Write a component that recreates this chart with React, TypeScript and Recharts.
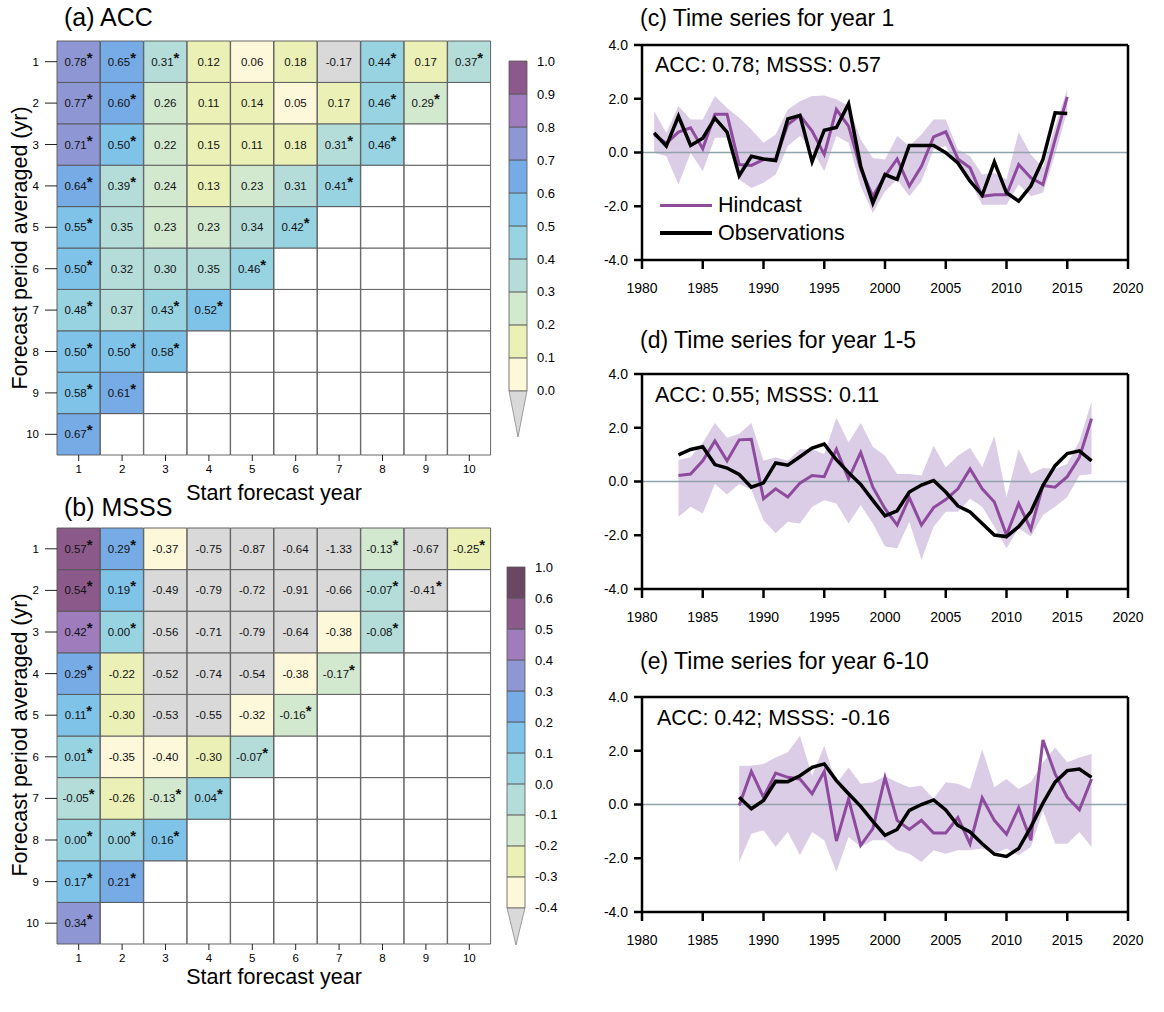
import React from 'react';
import {
  BarChart, Bar, XAxis, YAxis, Cell, LabelList,
  ComposedChart, Line, Area, ReferenceLine,
} from 'recharts';

const FONT = '"Liberation Sans", Arial, Helvetica, sans-serif';

// ---------- Heatmap data ----------
const startYears = ['1', '2', '3', '4', '5', '6', '7', '8', '9', '10'];
const rowLabels = ['1', '2', '3', '4', '5', '6', '7', '8', '9', '10'];

const accValues: number[][] = [
  [0.78, 0.65, 0.31, 0.12, 0.06, 0.18, -0.17, 0.44, 0.17, 0.37],
  [0.77, 0.60, 0.26, 0.11, 0.14, 0.05, 0.17, 0.46, 0.29],
  [0.71, 0.50, 0.22, 0.15, 0.11, 0.18, 0.31, 0.46],
  [0.64, 0.39, 0.24, 0.13, 0.23, 0.31, 0.41],
  [0.55, 0.35, 0.23, 0.23, 0.34, 0.42],
  [0.50, 0.32, 0.30, 0.35, 0.46],
  [0.48, 0.37, 0.43, 0.52],
  [0.50, 0.50, 0.58],
  [0.58, 0.61],
  [0.67],
];
const accSig: number[][] = [
  [1, 1, 1, 0, 0, 0, 0, 1, 0, 1],
  [1, 1, 0, 0, 0, 0, 0, 1, 1],
  [1, 1, 0, 0, 0, 0, 1, 1],
  [1, 1, 0, 0, 0, 0, 1],
  [1, 0, 0, 0, 0, 1],
  [1, 0, 0, 0, 1],
  [1, 0, 1, 1],
  [1, 1, 1],
  [1, 1],
  [1],
];

const msssValues: number[][] = [
  [0.57, 0.29, -0.37, -0.75, -0.87, -0.64, -1.33, -0.13, -0.67, -0.25],
  [0.54, 0.19, -0.49, -0.79, -0.72, -0.91, -0.66, -0.07, -0.41],
  [0.42, 0.00, -0.56, -0.71, -0.79, -0.64, -0.38, -0.08],
  [0.29, -0.22, -0.52, -0.74, -0.54, -0.38, -0.17],
  [0.11, -0.30, -0.53, -0.55, -0.32, -0.16],
  [0.01, -0.35, -0.40, -0.30, -0.07],
  [-0.05, -0.26, -0.13, 0.04],
  [0.00, 0.00, 0.16],
  [0.17, 0.21],
  [0.34],
];
const msssSig: number[][] = [
  [1, 1, 0, 0, 0, 0, 0, 1, 0, 1],
  [1, 1, 0, 0, 0, 0, 0, 1, 1],
  [1, 1, 0, 0, 0, 0, 0, 1],
  [1, 0, 0, 0, 0, 0, 1],
  [1, 0, 0, 0, 0, 1],
  [1, 0, 0, 0, 1],
  [1, 0, 1, 1],
  [1, 1, 1],
  [1, 1],
  [1],
];

// colour scales
const accLevels = ['0.0', '0.1', '0.2', '0.3', '0.4', '0.5', '0.6', '0.7', '0.8', '0.9', '1.0'];
const accColors = ['#fdf8da', '#ebf1b6', '#d2e9cf', '#b4ddda', '#98d3e1', '#7fc3e8', '#77abe5', '#8e97d4', '#9f7cbc', '#8b5a8b'];
const msssLevels = ['-0.4', '-0.3', '-0.2', '-0.1', '0.0', '0.1', '0.2', '0.3', '0.4', '0.5', '0.6', '1.0'];
const msssColors = ['#fdf8da', '#ebf1b6', '#d2e9cf', '#b4ddda', '#98d3e1', '#7fc3e8', '#77abe5', '#8e97d4', '#9f7cbc', '#8b5a8b', '#6b4763'];
const underColor = '#d9d9d9';

function binColor(v: number, min: number, colors: string[]) {
  if (v < min - 1e-9) return underColor;
  const idx = Math.floor((v - min) / 0.1 + 1e-6);
  return colors[Math.min(idx, colors.length - 1)];
}

// ---------- Time series data ----------
const yearsC = Array.from({ length: 35 }, (_, i) => 1981 + i);
const obsC = [0.73, 0.24, 1.35, 0.26, 0.53, 1.28, 0.76, -0.86, -0.14, -0.24,
  -0.30, 1.25, 1.38, -0.34, 0.83, 0.93, 1.81, -0.51, -1.88, -0.82,
  -1.00, 0.26, 0.26, 0.26, -0.01, -0.39, -1.07, -1.59, -0.35, -1.50,
  -1.81, -1.25, -0.26, 1.48, 1.45];
const hindC = [0.67, 0.34, 0.76, 0.92, 0.14, 1.42, 1.42, -0.45, -0.48, -0.26,
  -0.24, 1.04, 1.38, 0.80, -0.07, 1.60, 0.98, -0.61, -1.63, -0.88,
  -0.24, -1.25, -0.51, 0.58, 0.77, -0.24, -0.57, -1.63, -1.57, -1.57,
  -0.45, -0.94, -1.19, 0.48, 2.07];
const hiC = [1.54, 0.73, 1.73, 1.23, 1.23, 2.10, 1.66, 1.29, 0.86, 0.36,
  0.67, 1.60, 1.91, 2.10, 2.12, 1.98, 1.73, 0.48, -0.20, -0.26,
  0.61, 0.24, 0.67, 1.23, 1.23, 0.11, -0.14, -0.82, -0.76, -1.00,
  0.76, -0.07, -0.57, 0.98, 2.35];
const loC = [-0.01, -0.14, -1.19, -0.01, -0.70, 0.55, 0.55, -1.00, -1.32, -1.13,
  -0.82, 0.24, 0.61, 0.11, -0.70, 0.61, 0.36, -1.25, -2.25, -1.44,
  -1.00, -1.63, -1.07, 0.11, 0.24, -0.51, -1.07, -1.94, -1.94, -1.94,
  -1.19, -1.63, -1.50, -0.07, 1.54];

const yearsD = Array.from({ length: 35 }, (_, i) => 1983 + i);
const obsD = [0.99, 1.19, 1.29, 0.63, 0.50, 0.26, -0.21, -0.05, 0.69, 0.61,
  0.92, 1.24, 1.39, 0.81, 0.33, -0.11, -0.70, -1.28, -1.09, -0.39,
  -0.13, 0.04, -0.39, -0.91, -1.13, -1.56, -1.99, -2.05, -1.68, -1.13,
  -0.15, 0.59, 1.04, 1.14, 0.77];
const hindD = [0.22, 0.28, 0.77, 1.51, 0.77, 1.55, 1.57, -0.64, -0.27, -0.58,
  -0.06, 0.22, 0.18, 1.20, 0.10, 1.08, -0.21, -1.01, -1.62, -0.60,
  -1.62, -0.97, -0.67, -0.27, 0.47, -0.27, -0.76, -1.99, -0.82, -1.78,
  -0.15, -0.21, 0.18, 0.90, 2.34];
const hiD = [0.80, 0.90, 1.45, 2.18, 1.63, 1.78, 2.18, 0.77, 0.90, 0.77,
  1.20, 1.20, 1.02, 2.37, 1.45, 2.18, 1.29, 0.96, 0.28, 0.28,
  0.22, 1.33, 0.53, 0.96, 1.26, 0.53, 1.69, -0.58, 1.20, 0.28,
  0.50, 0.47, 0.65, 1.51, 2.98];
const loD = [-1.31, -0.94, -1.19, -0.09, -0.48, -0.09, -0.31, -1.44, -1.93, -1.50,
  -1.56, -0.94, -0.70, -0.82, -1.56, -0.88, -1.56, -2.42, -2.48, -1.50,
  -2.91, -1.68, -1.13, -1.13, -0.64, -0.94, -1.68, -2.48, -1.74, -2.05,
  -1.25, -0.94, -0.58, 0.22, 0.28];

const yearsE = Array.from({ length: 30 }, (_, i) => 1988 + i);
const obsE = [0.27, -0.16, 0.15, 0.86, 0.85, 1.07, 1.38, 1.51, 0.89, 0.40,
  -0.07, -0.63, -1.15, -0.93, -0.22, 0.00, 0.17, -0.20, -0.78, -1.02,
  -1.46, -1.85, -1.93, -1.64, -0.84, 0.05, 0.83, 1.26, 1.32, 1.01];
const hindE = [-0.04, 1.23, 0.27, 1.17, 1.01, 0.95, 0.40, 1.23, -1.36, 0.21,
  -1.52, -0.90, 1.01, -0.59, -0.93, -0.59, -1.06, -1.06, -0.49, -1.46,
  0.25, -0.59, -1.11, -0.12, -1.33, 2.40, 1.14, 0.27, -0.20, 0.95];
const hiE = [1.44, 1.44, 1.51, 1.75, 1.94, 2.56, 1.07, 2.19, 0.77, 1.38,
  0.77, 0.83, 1.05, 0.83, 0.64, 0.70, 0.21, 0.83, 0.77, 0.58,
  2.06, 0.64, 0.95, 0.58, 0.83, 1.57, 2.12, 1.57, 1.75, 1.88];
const loE = [-2.14, -1.09, -0.96, -1.58, -1.02, -1.89, -1.02, -1.33, -2.51, -1.21,
  -1.58, -1.33, -1.33, -1.70, -1.83, -2.14, -1.70, -1.83, -1.70, -1.70,
  -1.64, -1.83, -1.64, -1.89, -1.58, -0.22, -1.46, -1.46, -1.02, -1.58];

const xTicks = [1980, 1985, 1990, 1995, 2000, 2005, 2010, 2015, 2020];
const yTicks = [-4, -2, 0, 2, 4];

// ---------- Components ----------
const cellLabel = (props: any) => {
  const { x, y, width, height, value } = props;
  if (!value) return null;
  const s = String(value);
  const star = s.endsWith('*');
  const num = star ? s.slice(0, -1) : s;
  return (
    <text x={x + width / 2} y={y + height / 2 + 4} textAnchor="middle"
      fontSize={11.5} fontFamily={FONT} fill="#111">
      {num}
      {star ? <tspan fontSize={15} fontWeight="bold" dy={-3}>*</tspan> : null}
    </text>
  );
};

function Heatmap({ values, sig, min, colors, width, height }: any) {
  const data = startYears.map((c, j) => {
    const o: any = { col: c };
    rowLabels.forEach((_, r) => {
      o[`r${r}`] = 1;
      const v = values[r][j];
      o[`t${r}`] = v === undefined ? '' : v.toFixed(2) + (sig[r][j] ? '*' : '');
    });
    return o;
  });
  const order = [9, 8, 7, 6, 5, 4, 3, 2, 1, 0];
  return (
    <BarChart width={width} height={height} data={data}
      margin={{ top: 41, right: 9, bottom: 25, left: 17 }}
      barCategoryGap={0} barGap={0}>
      <XAxis dataKey="col" axisLine={false} tickSize={6} tickMargin={4}
        tickLine={{ stroke: '#222' }} height={30}
        tick={{ fontSize: 11.5, fill: '#000', fontFamily: FONT }} interval={0} />
      <YAxis type="number" domain={[0, 10]} ticks={[0.5, 1.5, 2.5, 3.5, 4.5, 5.5, 6.5, 7.5, 8.5, 9.5]}
        tickFormatter={(v: number) => rowLabels[Math.round(9.5 - v)]}
        axisLine={false} tickSize={12} tickMargin={6} width={40}
        tickLine={{ stroke: '#222' }}
        tick={{ fontSize: 11.5, fill: '#000', fontFamily: FONT }} />
      {order.map((r) => (
        <Bar key={r} dataKey={`r${r}`} stackId="a" isAnimationActive={false}
          stroke="#555" strokeWidth={0.9}>
          {startYears.map((c, j) => {
            const v = values[r][j];
            return <Cell key={c} fill={v === undefined ? '#ffffff' : binColor(v, min, colors)} />;
          })}
          <LabelList dataKey={`t${r}`} content={cellLabel} />
        </Bar>
      ))}
    </BarChart>
  );
}

function ColorBar({ levels, colors, tri, height, margin }: any) {
  const row: any = { k: 'c', tri };
  colors.forEach((_: string, i: number) => { row[`b${i}`] = 1; });
  const total = tri + colors.length;
  const ticks = levels.map((_: string, i: number) => tri + i);
  return (
    <BarChart width={80} height={height} data={[row]} margin={margin}
      barCategoryGap={0} barGap={0}>
      <XAxis dataKey="k" hide />
      <YAxis orientation="right" type="number" domain={[0, total]} ticks={ticks}
        tickFormatter={(v: number) => levels[Math.round(v - tri)]}
        axisLine={false} tickLine={false} tickSize={3} tickMargin={7} width={40}
        tick={{ fontSize: 13, fill: '#000', fontFamily: FONT, textAnchor: 'start' }} />
      <Bar dataKey="tri" stackId="s" isAnimationActive={false} fill={underColor}
        shape={(p: any) => (
          <polygon points={`${p.x},${p.y} ${p.x + p.width},${p.y} ${p.x + p.width / 2},${p.y + p.height}`}
            fill={underColor} stroke="#888" strokeWidth={0.8} />
        )} />
      {colors.map((c: string, i: number) => (
        <Bar key={i} dataKey={`b${i}`} stackId="s" isAnimationActive={false}
          fill={c} stroke="#555" strokeWidth={0.8} />
      ))}
    </BarChart>
  );
}

function TimeSeries({ years, obs, hind, lo, hi }: any) {
  const data = years.map((y: number, i: number) => ({
    year: y, obs: obs[i], hind: hind[i], band: [lo[i], hi[i]],
  }));
  const axisStyle = { stroke: '#000', strokeWidth: 2.5 };
  return (
    <ComposedChart width={580} height={290} data={data}
      margin={{ top: 15, right: 12, bottom: 20, left: 10 }}>
      <XAxis dataKey="year" type="number" domain={[1980, 2020]} ticks={xTicks}
        allowDataOverflow tickSize={9} tickMargin={14} height={40} stroke="#000"
        axisLine={axisStyle} tickLine={axisStyle}
        tick={{ fontSize: 14, fill: '#000', fontFamily: FONT }} />
      <YAxis yAxisId="l" type="number" domain={[-4, 4]} ticks={yTicks} stroke="#000"
        tickFormatter={(v: number) => v.toFixed(1)} width={52}
        tickSize={8} tickMargin={6} axisLine={axisStyle} tickLine={axisStyle}
        tick={{ fontSize: 14, fill: '#000', fontFamily: FONT }} />
      <YAxis yAxisId="r" orientation="right" type="number" domain={[-4, 4]} ticks={yTicks}
        tickFormatter={() => ''} width={20} tickSize={10} stroke="#000"
        axisLine={axisStyle} tickLine={axisStyle} />
      <Area yAxisId="l" dataKey="band" type="linear" fill="#dccde6" fillOpacity={1}
        stroke="none" isAnimationActive={false} />
      <ReferenceLine yAxisId="l" y={0} stroke="#8fa4ad" strokeWidth={1.3} />
      <ReferenceLine yAxisId="l" y={4} stroke="#000" strokeWidth={2.5} />
      <Line yAxisId="l" dataKey="hind" type="linear" stroke="#8e4b9e" strokeWidth={3}
        dot={false} isAnimationActive={false} />
      <Line yAxisId="l" dataKey="obs" type="linear" stroke="#000" strokeWidth={3.5}
        dot={false} isAnimationActive={false} />
    </ComposedChart>
  );
}

const abs = (left: number, top: number, extra: any = {}) => ({
  position: 'absolute' as const, left, top, ...extra,
});

const titleStyle = { fontSize: 23, fontFamily: FONT, color: '#000', whiteSpace: 'nowrap' as const, lineHeight: '26px' };
const bigTitleStyle = { ...titleStyle, fontSize: 25 };
const labelStyle = { fontSize: 21.5, fontFamily: FONT, color: '#000', whiteSpace: 'nowrap' as const, lineHeight: '24px' };
const axisTitleStyle = { fontSize: 21.5, fontFamily: FONT, color: '#000', whiteSpace: 'nowrap' as const, lineHeight: '24px' };

export default function App() {
  return (
    <div style={{ position: 'absolute', left: 0, top: 0, width: 1164, height: 1012, background: '#fff', overflow: 'hidden' }}>
      {/* (a) ACC */}
      <div style={abs(64, 4, bigTitleStyle)}>(a) ACC</div>
      <div style={abs(0, 0)}>
        <Heatmap values={accValues} sig={accSig} min={0} colors={accColors} width={500} height={510} />
      </div>
      <div style={abs(500, 40)}>
        <ColorBar levels={accLevels} colors={accColors} tri={1.4} height={420}
          margin={{ top: 21, right: 13, bottom: 23, left: 9 }} />
      </div>
      <div style={abs(274, 481, { ...axisTitleStyle, transform: 'translateX(-50%)' })}>Start forecast year</div>
      <div style={abs(20, 248, { ...axisTitleStyle, transform: 'translate(-50%, -50%) rotate(-90deg)' })}>Forecast period averaged (yr)</div>

      {/* (b) MSSS */}
      <div style={abs(64, 494, bigTitleStyle)}>(b) MSSS</div>
      <div style={abs(0, 487)}>
        <Heatmap values={msssValues} sig={msssSig} min={-0.4} colors={msssColors} width={500} height={512} />
      </div>
      <div style={abs(498, 540)}>
        <ColorBar levels={msssLevels} colors={msssColors} tri={1.2} height={420}
          margin={{ top: 27, right: 13, bottom: 15, left: 9 }} />
      </div>
      <div style={abs(274, 965, { ...axisTitleStyle, transform: 'translateX(-50%)' })}>Start forecast year</div>
      <div style={abs(20, 735, { ...axisTitleStyle, transform: 'translate(-50%, -50%) rotate(-90deg)' })}>Forecast period averaged (yr)</div>

      {/* (c) */}
      <div style={abs(640, 5, titleStyle)}>(c) Time series for year 1</div>
      <div style={abs(580, 30)}>
        <TimeSeries years={yearsC} obs={obsC} hind={hindC} lo={loC} hi={hiC} />
      </div>
      <div style={abs(655, 53, labelStyle)}>ACC: 0.78; MSSS: 0.57</div>
      <div style={abs(660, 193)}>
        <div style={{ position: 'absolute', left: 0, top: 11, width: 52, height: 3, background: '#8e4b9e' }} />
        <div style={{ position: 'absolute', left: 58, top: 0, ...labelStyle }}>Hindcast</div>
        <div style={{ position: 'absolute', left: 0, top: 38, width: 52, height: 4, background: '#000' }} />
        <div style={{ position: 'absolute', left: 58, top: 28, ...labelStyle }}>Observations</div>
      </div>

      {/* (d) */}
      <div style={abs(640, 327, titleStyle)}>(d) Time series for year 1-5</div>
      <div style={abs(580, 359)}>
        <TimeSeries years={yearsD} obs={obsD} hind={hindD} lo={loD} hi={hiD} />
      </div>
      <div style={abs(655, 383, labelStyle)}>ACC: 0.55; MSSS: 0.11</div>

      {/* (e) */}
      <div style={abs(640, 648, titleStyle)}>(e) Time series for year 6-10</div>
      <div style={abs(580, 682)}>
        <TimeSeries years={yearsE} obs={obsE} hind={hindE} lo={loE} hi={hiE} />
      </div>
      <div style={abs(657, 706, labelStyle)}>ACC: 0.42; MSSS: -0.16</div>
    </div>
  );
}
